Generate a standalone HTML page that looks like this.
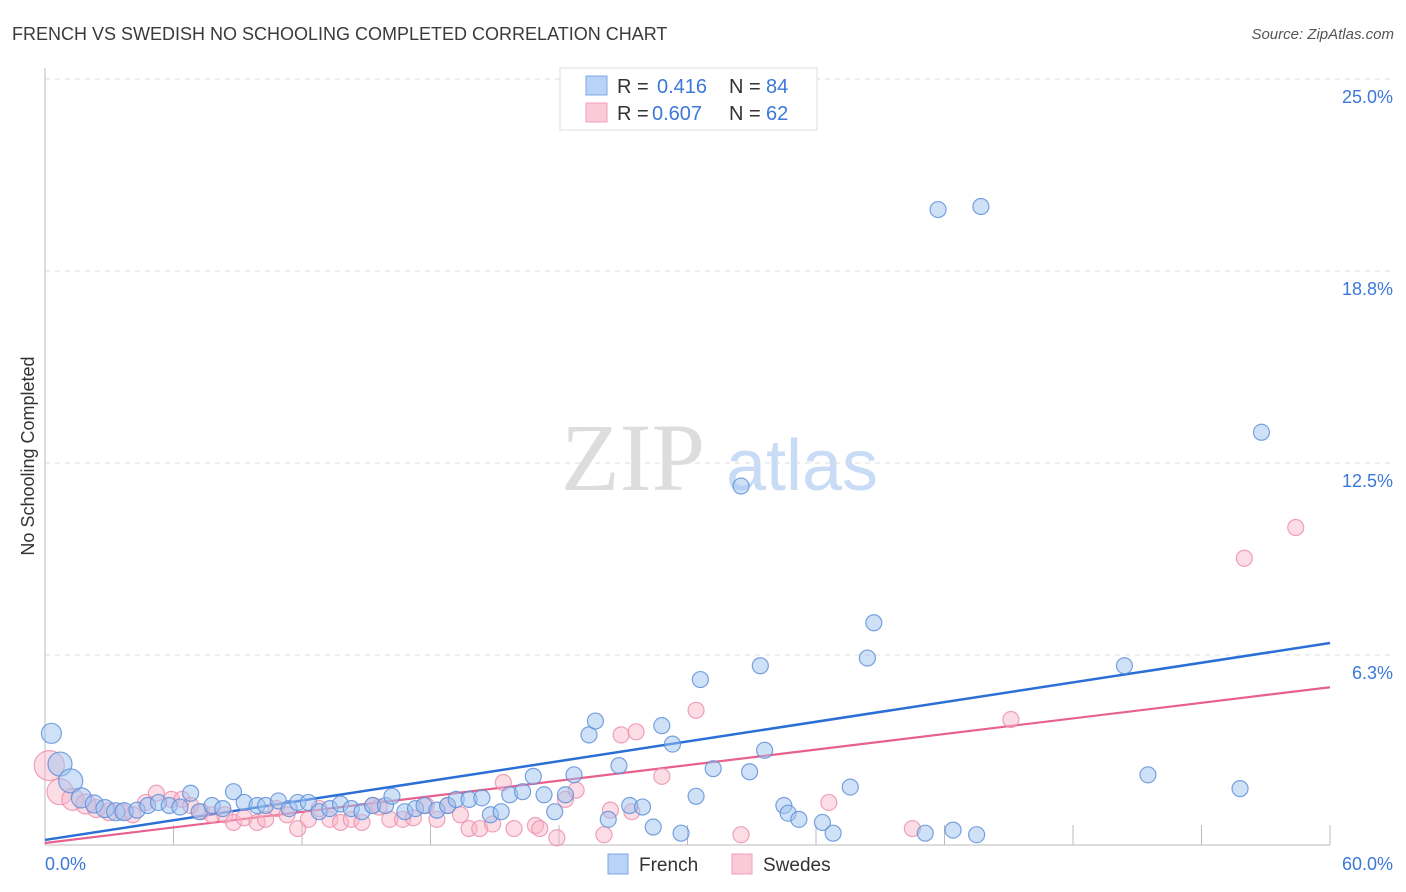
<!DOCTYPE html>
<html><head><meta charset="utf-8">
<style>
body{margin:0;background:#fff;font-family:"Liberation Sans",sans-serif;}
svg{display:block}
</style></head>
<body>
<svg id="chart" width="1406" height="892" xmlns="http://www.w3.org/2000/svg">
<text x="12" y="40" font-size="18" fill="#3a3a3a">FRENCH VS SWEDISH NO SCHOOLING COMPLETED CORRELATION CHART</text>
<text x="1394" y="39" font-size="15" fill="#555" font-style="italic" text-anchor="end">Source: ZipAtlas.com</text>
<text x="0" y="0" transform="translate(34,456) rotate(-90)" font-size="18" fill="#333" text-anchor="middle">No Schooling Completed</text>
<text x="633" y="490" font-size="96" fill="#ddd" font-family="Liberation Serif,serif" text-anchor="middle">ZIP</text>
<text x="802" y="490" font-size="72" fill="#c9dcf5" text-anchor="middle">atlas</text>
<g id="grid"></g><g id="axes"></g><g id="lines"></g><g id="pts"></g>
<g>
<rect x="560" y="68" width="257" height="62" fill="#fff" stroke="#ddd"/>
<rect x="586" y="76" width="21" height="19" fill="#b8d3f5" stroke="#7aa7e6"/>
<rect x="586" y="103" width="21" height="19" fill="#fbcad8" stroke="#f0a0bb"/>
<text x="617" y="93" font-size="20" fill="#333">R = </text><text x="657" y="93" font-size="20" fill="#3b78d8">0.416</text>
<text x="729" y="93" font-size="20" fill="#333">N = </text><text x="766" y="93" font-size="20" fill="#3b78d8">84</text>
<text x="617" y="120" font-size="20" fill="#333">R = </text><text x="652" y="120" font-size="20" fill="#3b78d8">0.607</text>
<text x="729" y="120" font-size="20" fill="#333">N = </text><text x="766" y="120" font-size="20" fill="#3b78d8">62</text>
</g>
<g>
<rect x="608" y="854" width="20" height="20" fill="#b8d3f5" stroke="#7aa7e6"/>
<text x="639" y="871" font-size="19" fill="#333">French</text>
<rect x="732" y="854" width="20" height="20" fill="#fbcad8" stroke="#f0a0bb"/>
<text x="763" y="871" font-size="19" fill="#333">Swedes</text>
</g>
</svg>
<script>
const yTicks=[6.25,12.5,18.75,25];
const yTickLabels=["6.3%","12.5%","18.8%","25.0%"];
const xTickLabels=["0.0%","60.0%"];
const frenchX=[0.3,0.7,1.2,1.7,2.3,2.8,3.3,3.7,4.3,4.8,5.3,5.8,6.3,6.8,7.2,7.8,8.3,8.8,9.3,9.9,10.3,10.9,11.4,11.8,12.3,12.8,13.3,13.8,14.3,14.8,15.3,15.9,16.2,16.8,17.3,17.7,18.3,18.8,19.2,19.8,20.4,20.8,21.3,21.7,22.3,22.8,23.3,23.8,24.3,24.7,25.4,25.7,26.3,26.8,27.3,27.9,28.4,28.8,29.3,29.7,30.4,30.6,31.2,32.5,32.9,33.4,33.6,34.5,34.7,35.2,36.3,36.8,37.6,38.4,38.7,41.1,41.7,42.4,43.5,43.7,50.4,51.5,55.8,56.8];
const frenchY=[3.7,2.7,2.15,1.6,1.4,1.25,1.15,1.15,1.2,1.35,1.45,1.35,1.3,1.75,1.15,1.35,1.25,1.8,1.45,1.35,1.35,1.5,1.25,1.45,1.45,1.15,1.25,1.4,1.25,1.15,1.35,1.35,1.65,1.15,1.25,1.35,1.2,1.35,1.55,1.55,1.6,1.05,1.15,1.7,1.8,2.3,1.7,1.15,1.7,2.35,3.65,4.1,0.9,2.65,1.35,1.3,0.65,3.95,3.35,0.45,1.65,5.45,2.55,11.75,2.45,5.9,3.15,1.35,1.1,0.9,0.8,0.45,1.95,6.15,7.3,0.45,20.75,0.55,0.4,20.85,5.9,2.35,1.9,13.5];
const frenchSize=[10,12,12,10,9,9,9,9,8,8,8,8,8,8,8,8,8,8,8,8,8,8,8,8,8,8,8,8,8,8,8,8,8,8,8,8,8,8,8,8,8,8,8,8,8,8,8,8,8,8,8,8,8,8,8,8,8,8,8,8,8,8,8,8,8,8,8,8,8,8,8,8,8,8,8,8,8,8,8,8,8,8,8,8];
const swedesX=[0.2,0.7,1.3,1.9,2.4,3.0,3.6,4.1,4.7,5.2,5.9,6.4,6.8,7.3,7.8,8.4,8.8,9.3,9.9,10.3,10.8,11.3,11.8,12.3,12.8,13.3,13.8,14.3,14.8,15.3,15.6,16.1,16.7,17.2,17.8,18.3,18.8,19.4,19.8,20.3,20.9,21.4,21.9,22.9,23.1,23.9,24.3,24.8,26.1,26.4,26.9,27.4,27.6,28.8,30.4,32.5,36.6,40.5,45.1,56.0,58.4];
const swedesY=[2.65,1.8,1.55,1.4,1.25,1.15,1.15,1.05,1.45,1.75,1.55,1.55,1.35,1.15,1.05,1.05,0.8,0.95,0.8,0.9,1.25,1.05,0.6,0.9,1.25,0.9,0.8,0.9,0.8,1.35,1.3,0.9,0.9,0.95,1.35,0.9,1.35,1.05,0.6,0.6,0.75,2.1,0.6,0.7,0.6,0.3,1.55,1.85,0.4,1.2,3.65,1.15,3.75,2.3,4.45,0.4,1.45,0.6,4.15,9.4,10.4];
const swedesSize=[15,13,11,10,9,9,8,8,8,8,8,8,8,8,8,8,8,8,8,8,8,8,8,8,8,8,8,8,8,8,8,8,8,8,8,8,8,8,8,8,8,8,8,8,8,8,8,8,8,8,8,8,8,8,8,8,8,8,8,8,8];
const frenchTrend=[0.23,6.64];
const swedesTrend=[0.13,5.2];
const X0=45,X1=1330,Y0=847,PXPER=192/6.25;
const sx=v=>X0+(v/60)*(X1-X0);
const sy=v=>Y0-v*PXPER;
const NS="http://www.w3.org/2000/svg";
function mk(tag,attrs,parent){const e=document.createElementNS(NS,tag);for(const k in attrs)e.setAttribute(k,attrs[k]);document.getElementById(parent).appendChild(e);return e;}
yTicks.forEach((t,i)=>{
 const l=mk('line',{x1:X0,x2:1394,y1:sy(t),y2:sy(t),stroke:'#ddd','stroke-dasharray':'5,5'},'grid');
 
 
 const tx=mk('text',{x:1393,y:sy(t)+24,'font-size':18,fill:'#3b78d8','text-anchor':'end'},'grid');
 tx.textContent=yTickLabels[i];
 
 
});
let a=mk('line',{x1:X0,x2:X0,y1:68,y2:845,stroke:'#bbb'},'axes');


a=mk('line',{x1:X0,x2:X1,y1:845,y2:845,stroke:'#bbb'},'axes');


for(let i=1;i<=10;i++){const x=sx(i*6);const t=mk('line',{x1:x,x2:x,y1:825,y2:845,stroke:'#bbb'},'axes');
 
 }
let xl=mk('text',{x:45,y:870,'font-size':18,fill:'#3b78d8'},'axes');xl.textContent=xTickLabels[0];


xl=mk('text',{x:1393,y:870,'font-size':18,fill:'#3b78d8','text-anchor':'end'},'axes');xl.textContent=xTickLabels[1];


function pts(X,Y,S,fill,stroke,name){X.forEach((x,i)=>{const c=mk('circle',{cx:sx(x),cy:sy(Y[i]),r:S[i],fill:fill,stroke:stroke,'stroke-width':1.2},'pts');
 
 });}
pts(swedesX,swedesY,swedesSize,'rgba(248,180,200,0.45)','rgba(235,140,170,0.8)','swedes-point');
pts(frenchX,frenchY,frenchSize,'rgba(160,196,240,0.5)','rgba(90,140,215,0.8)','french-point');
let tl=mk('line',{x1:sx(0),y1:sy(frenchTrend[0]),x2:sx(60),y2:sy(frenchTrend[1]),stroke:'#2a6fd6','stroke-width':2.5},'lines');


tl=mk('line',{x1:sx(0),y1:sy(swedesTrend[0]),x2:sx(60),y2:sy(swedesTrend[1]),stroke:'#e8608e','stroke-width':2.2},'lines');


</script>
</body></html>
